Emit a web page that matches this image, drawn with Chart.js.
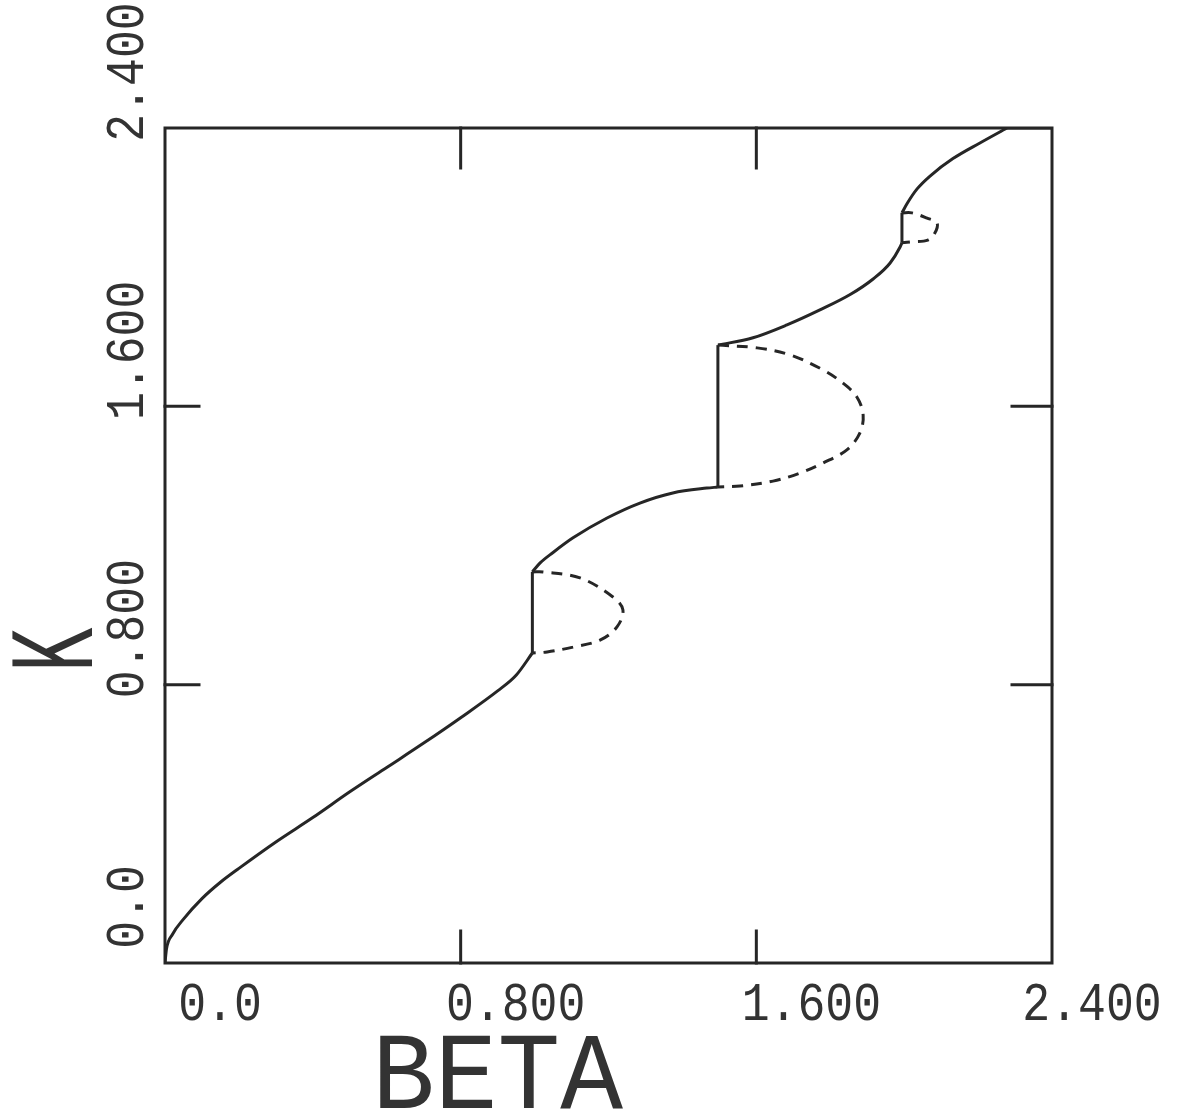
<!DOCTYPE html>
<html>
<head>
<meta charset="utf-8">
<title>K vs BETA</title>
<script src="https://cdn.jsdelivr.net/npm/chart.js@4.4.1/dist/chart.umd.min.js"></script>
<style>
  html, body { margin: 0; padding: 0; background: #fff; }
  #plot { display: block; }
</style>
</head>
<body>
<canvas id="plot" width="1197" height="1112"></canvas>
<script>
// axis range and ticks
const axisMin = 0;
const axisMax = 2.4;
const tickValues = [0, 0.8, 1.6, 2.4];
const tickLabels = ["0.0", "0.800", "1.600", "2.400"];
const innerTicks = [0.8, 1.6];

// solid branches (between the jumps)
const betaBranchA = [0, 0.004, 0.02, 0.05, 0.1, 0.15, 0.2, 0.3, 0.4, 0.5, 0.6, 0.7, 0.8, 0.9, 0.95, 0.994];
const kBranchA = [0, 0.040, 0.082, 0.126, 0.185, 0.232, 0.272, 0.348, 0.418, 0.492, 0.562, 0.632, 0.705, 0.782, 0.827, 0.891];

const betaBranchB = [0.994, 1.015, 1.050, 1.104, 1.196, 1.285, 1.374, 1.466, 1.496];
const kBranchB = [1.124, 1.150, 1.180, 1.222, 1.279, 1.322, 1.351, 1.365, 1.368];

const betaBranchC = [1.496, 1.591, 1.683, 1.772, 1.855, 1.916, 1.962, 1.989, 1.994];
const kBranchC = [1.776, 1.797, 1.834, 1.877, 1.922, 1.966, 2.012, 2.058, 2.070];

const betaBranchD = [1.994, 2.008, 2.035, 2.070, 2.132, 2.205, 2.278];
const kBranchD = [2.156, 2.183, 2.225, 2.262, 2.312, 2.357, 2.400];

// flat part running along the top edge
const betaTop = [2.278, 2.400];
const kTop = [2.400, 2.400];

// dashed loops
const betaLoop1 = [0.994, 1.023, 1.123, 1.212, 1.239, 1.223, 1.177, 1.104, 1.034, 0.994];
const kLoop1 = [1.124, 1.124, 1.107, 1.052, 1.015, 0.966, 0.928, 0.908, 0.894, 0.891];

const betaLoop2 = [1.496, 1.602, 1.691, 1.780, 1.834, 1.872, 1.889, 1.880, 1.845, 1.780, 1.718, 1.645, 1.556, 1.496];
const kLoop2 = [1.776, 1.768, 1.748, 1.705, 1.667, 1.627, 1.575, 1.523, 1.475, 1.437, 1.408, 1.385, 1.371, 1.368];

const betaLoop3 = [1.994, 2.021, 2.062, 2.089, 2.083, 2.064, 2.021, 1.994];
const kLoop3 = [2.156, 2.156, 2.141, 2.127, 2.098, 2.078, 2.073, 2.070];

const ink = "#262626";
const labelFont = "'Liberation Mono', 'DejaVu Sans Mono', monospace";

function toPoints(xs, ys) {
  return xs.map((x, i) => ({ x: x, y: ys[i] }));
}

function solid(points, smooth) {
  return {
    data: points,
    showLine: true,
    borderColor: ink,
    borderWidth: 3,
    pointRadius: 0,
    cubicInterpolationMode: smooth ? "monotone" : "default",
    tension: 0,
    fill: false
  };
}

function dashed(xs, ys) {
  return {
    data: toPoints(xs, ys),
    showLine: true,
    borderColor: ink,
    borderWidth: 3,
    borderDash: [11, 8],
    pointRadius: 0,
    tension: 0.35,
    fill: false
  };
}

// vertical jump joining the end of one branch to the start of the next
function jump(xsFrom, ysFrom, xsTo, ysTo) {
  return solid([
    { x: xsFrom[xsFrom.length - 1], y: ysFrom[ysFrom.length - 1] },
    { x: xsTo[0], y: ysTo[0] }
  ], false);
}

// draw text squeezed horizontally (plotter lettering is narrow)
function squeezed(ctx, text, x, y, sx) {
  ctx.save();
  ctx.translate(x, y);
  ctx.scale(sx, 1);
  ctx.fillText(text, 0, 0);
  ctx.restore();
}

// frame, inward ticks, tick labels and axis titles
const framePlugin = {
  id: "frame",
  afterDraw(chart) {
    const ctx = chart.ctx;
    const xs = chart.scales.x;
    const ys = chart.scales.y;
    const a = chart.chartArea;
    ctx.save();
    ctx.strokeStyle = ink;
    ctx.lineWidth = 3;
    ctx.lineCap = "square";
    ctx.strokeRect(a.left, a.top, a.right - a.left, a.bottom - a.top);

    innerTicks.forEach((v) => {
      const px = xs.getPixelForValue(v);
      const py = ys.getPixelForValue(v);
      ctx.beginPath();
      ctx.moveTo(px, a.bottom); ctx.lineTo(px, a.bottom - 32);
      ctx.moveTo(px, a.top); ctx.lineTo(px, a.top + 40);
      ctx.moveTo(a.left, py); ctx.lineTo(a.left + 34, py);
      ctx.moveTo(a.right, py); ctx.lineTo(a.right - 40, py);
      ctx.stroke();
    });

    ctx.fillStyle = "#333";
    ctx.font = "54px " + labelFont;
    ctx.textBaseline = "alphabetic";
    ctx.textAlign = "center";
    tickValues.forEach((v, i) => {
      const px = xs.getPixelForValue(v);
      squeezed(ctx, tickLabels[i], px + (i === 3 ? 40 : 55), a.bottom + 57, 0.86);
    });

    tickValues.forEach((v, i) => {
      const py = ys.getPixelForValue(v);
      ctx.save();
      ctx.translate(a.left - 22, py - 56);
      ctx.rotate(-Math.PI / 2);
      squeezed(ctx, tickLabels[i], 0, 0, 0.86);
      ctx.restore();
    });

    ctx.font = "110px " + labelFont;
    squeezed(ctx, "BETA", (a.left + a.right) / 2 - 111, a.bottom + 145, 0.95);

    ctx.save();
    ctx.translate(92, 650);
    ctx.rotate(-Math.PI / 2);
    ctx.font = "120px " + labelFont;
    squeezed(ctx, "K", 0, 0, 0.62);
    ctx.restore();
    ctx.restore();
  }
};

new Chart(document.getElementById("plot"), {
  type: "scatter",
  data: {
    datasets: [
      dashed(betaLoop1, kLoop1),
      dashed(betaLoop2, kLoop2),
      dashed(betaLoop3, kLoop3),
      solid(toPoints(betaBranchA, kBranchA), true),
      jump(betaBranchA, kBranchA, betaBranchB, kBranchB),
      solid(toPoints(betaBranchB, kBranchB), true),
      jump(betaBranchB, kBranchB, betaBranchC, kBranchC),
      solid(toPoints(betaBranchC, kBranchC), true),
      jump(betaBranchC, kBranchC, betaBranchD, kBranchD),
      solid(toPoints(betaBranchD, kBranchD), true),
      solid(toPoints(betaTop, kTop), false)
    ]
  },
  options: {
    responsive: false,
    animation: false,
    layout: { padding: { left: 165, right: 145, top: 128, bottom: 149 } },
    plugins: { legend: { display: false }, tooltip: { enabled: false } },
    scales: {
      x: { type: "linear", min: axisMin, max: axisMax, display: false },
      y: { type: "linear", min: axisMin, max: axisMax, display: false }
    }
  },
  plugins: [framePlugin]
});
</script>
</body>
</html>
